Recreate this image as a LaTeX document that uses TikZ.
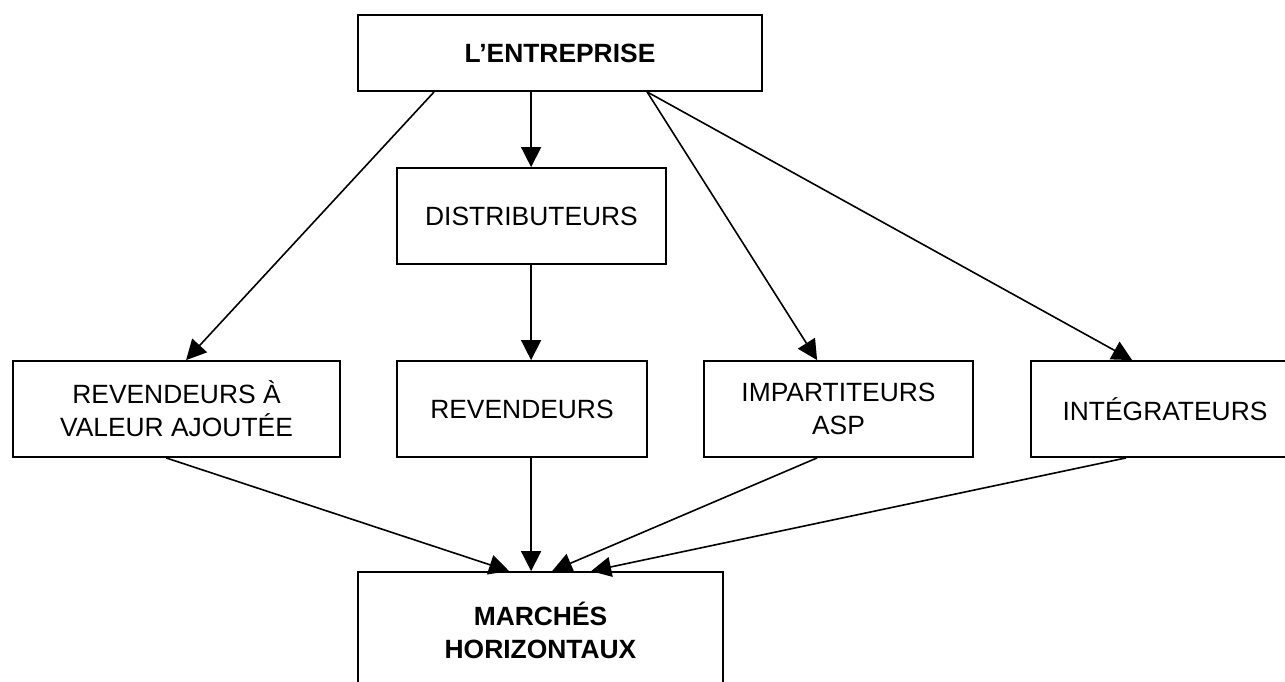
\documentclass[tikz,border=0pt]{standalone}
\usepackage{fontspec}
\setmainfont{Liberation Sans}
\usetikzlibrary{arrows.meta,calc}
\tikzset{
  box/.style={draw=black, line width=0.9pt, rectangle, inner sep=0pt, align=center,
    font=\fontsize{13.2}{16.5}\selectfont},
  conn/.style={draw=black, line width=0.8pt, -{Triangle[length=10pt,width=10pt]}}
}
\begin{document}
\begin{tikzpicture}[x=0.5pt,y=-0.5pt]
\useasboundingbox (0,0) rectangle (1285,681);
\node[box, minimum width=202pt, minimum height=38pt] (ent) at (560,53) {\bfseries L’ENTREPRISE};
\node[box, minimum width=134.5pt, minimum height=48pt] (dist) at (531.5,216) {DISTRIBUTEURS};
\node[box, minimum width=163.5pt, minimum height=48pt] (rva) at (176.5,409) {REVENDEURS À\\VALEUR AJOUTÉE};
\node[box, minimum width=125pt, minimum height=48pt] (rev) at (522,409) {REVENDEURS};
\node[box, minimum width=134.5pt, minimum height=48pt] (imp) at (838.5,409) {IMPARTITEURS\\ASP};
\node[box, minimum width=134pt, minimum height=48pt] (int) at (1165,409) {INTÉGRATEURS};
\node[box, minimum width=182.5pt, minimum height=58pt] (mh) at (540.5,630) {\bfseries MARCHÉS\\\bfseries HORIZONTAUX};

\draw[conn] ($(ent.south west)+(77,0)$) -- ($(rva.north west)+(174,0)$);
\draw[conn] ($(ent.south west)+(174,0)$) -- ($(dist.north west)+(135,0)$);
\draw[conn] ($(dist.south west)+(135,0)$) -- ($(rev.north west)+(135,0)$);
\draw[conn] ($(ent.south west)+(290,0)$) -- ($(imp.north west)+(114,0)$);
\draw[conn] ($(ent.south west)+(290,0)$) -- ($(int.north west)+(102,0)$);
\draw[conn] ($(rva.south west)+(154,0)$) -- ($(mh.north west)+(152,0)$);
\draw[conn] ($(rev.south west)+(135,0)$) -- ($(mh.north west)+(174,0)$);
\draw[conn] ($(imp.south west)+(114,0)$) -- ($(mh.north west)+(195,0)$);
\draw[conn] ($(int.south west)+(96,0)$) -- ($(mh.north west)+(234,0)$);
\end{tikzpicture}
\end{document}
